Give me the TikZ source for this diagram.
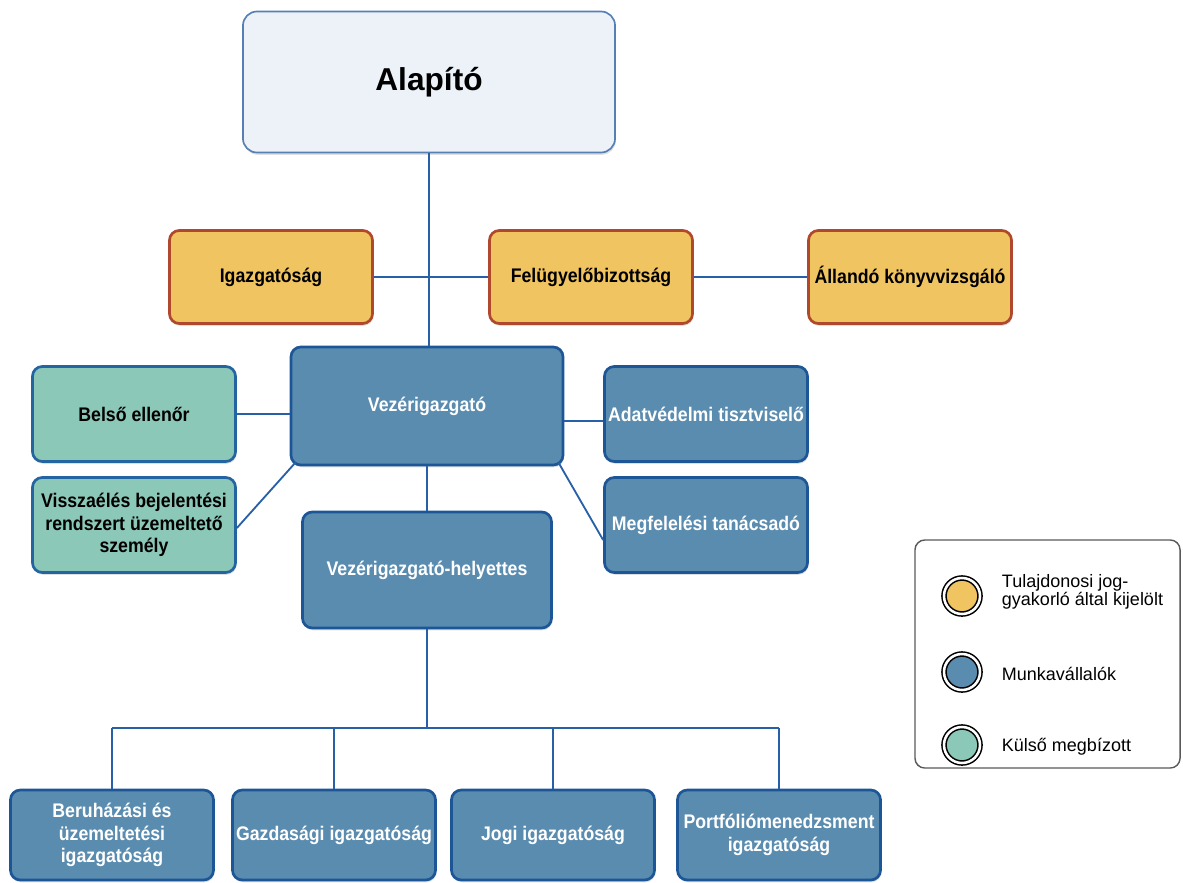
\documentclass[tikz,border=0pt]{standalone}
\usepackage{fontspec}
\setmainfont{Liberation Sans}
\newfontfamily\narrowfont{Liberation Sans}[FakeStretch=0.9]
\usetikzlibrary{shapes,shadows,calc,positioning}

\definecolor{topfill}{RGB}{236,242,248}
\definecolor{topline}{RGB}{86,128,180}
\definecolor{ownfill}{RGB}{240,196,96}
\definecolor{ownline}{RGB}{176,72,44}
\definecolor{empfill}{RGB}{90,140,176}
\definecolor{empline}{RGB}{28,86,150}
\definecolor{extfill}{RGB}{140,200,184}
\definecolor{extline}{RGB}{36,100,160}
\definecolor{connline}{RGB}{40,96,168}

\begin{document}
\begin{tikzpicture}[x=0.025cm, y=-0.025cm,
	basebox/.style={rectangle, rounded corners=7pt, line width=1.9pt, align=center,
		minimum width=5.075cm, minimum height=2.325cm, inner sep=1pt,
		font=\narrowfont\bfseries\fontsize{14}{16}\selectfont,
		drop shadow={shadow xshift=0.6pt, shadow yshift=-1.6pt, opacity=0.25}},
	topbox/.style={basebox, fill=topfill, draw=topline, line width=1.2pt, rounded corners=10pt,
		minimum width=9.3cm, minimum height=3.525cm, font=\bfseries\fontsize{22.5}{26}\selectfont},
	ownbox/.style={basebox, fill=ownfill, draw=ownline},
	empbox/.style={basebox, fill=empfill, draw=empline, text=white},
	extbox/.style={basebox, fill=extfill, draw=extline},
	lowbox/.style={empbox, minimum height=2.25cm},
	conn/.style={draw=connline, line width=1.3pt},
	legdot/.style={circle, draw=black, line width=1.1pt, double=white, double distance=1.8pt,
		minimum size=0.9cm, inner sep=0pt},
	legtext/.style={anchor=west, align=left, font=\fontsize{12.8}{13}\selectfont}]

	\useasboundingbox (0,0) rectangle (1183,882);

	% nodes
	\node[topbox] (alap)   at (429,82)  {Alapító};
	\node[ownbox] (igaz)   at (271,277) {Igazgatóság};
	\node[ownbox] (felu)   at (591,277) {Felügyelőbizottság};
	\node[ownbox] (konyv)  at (910,277) {Állandó könyvvizsgáló};
	\node[empbox, minimum width=6.8cm, minimum height=2.95cm] (vez) at (427,406) {Vezérigazgató};
	\node[extbox, minimum height=2.375cm] (belso)  at (134,414) {Belső ellenőr};
	\node[extbox, minimum height=2.375cm] (vissza) at (134,525) {Visszaélés bejelentési\\rendszert üzemeltető\\személy};
	\node[empbox, minimum height=2.375cm] (adat)   at (706,414) {Adatvédelmi tisztviselő};
	\node[empbox, minimum height=2.375cm] (megf)   at (706,525) {Megfelelési tanácsadó};
	\node[empbox, minimum width=6.225cm, minimum height=2.9cm] (vh) at (427,570) {Vezérigazgató-helyettes};
	\node[lowbox] (beru)  at (112,835) {Beruházási és\\üzemeltetési\\igazgatóság};
	\node[lowbox] (gazd)  at (334,835) {Gazdasági igazgatóság};
	\node[lowbox] (jogi)  at (553,835) {Jogi igazgatóság};
	\node[lowbox] (port)  at (779,835) {Portfóliómenedzsment\\igazgatóság};

	% connectors
	\draw[conn] (alap.south) -- (alap.south |- vez.north);
	\draw[conn] (igaz) -- (felu);
	\draw[conn] (felu) -- (konyv);
	\draw[conn] (belso.east) -- (belso.east -| vez.west);
	\draw[conn] ($(adat.west)+(0,7)$) -- ($(adat.west -| vez.east)+(0,7)$);
	\draw[conn] ($(vez.south west)+(6,-4)$) -- ($(vissza.east)+(0,3)$);
	\draw[conn] ($(vez.south east)+(-6,-4)$) -- ($(megf.west)+(0,15)$);
	\draw[conn] (vez) -- (vh);
	\coordinate (bus) at (427,728);
	\draw[conn] (vh.south) -- (bus);
	\draw[conn] (beru.north |- bus) -- (port.north |- bus);
	\foreach \b in {beru,gazd,jogi,port}
		\draw[conn] (\b.north) -- (\b.north |- bus);

	% legend
	\node[draw=black!65, line width=1pt, rounded corners=7pt, minimum width=6.625cm,
		minimum height=5.7cm] (leg) at (1047.5,654) {};
	\node[legdot, fill=ownfill] (d1) at (962,596) {};
	\node[legdot, fill=empfill] (d2) at (962,672) {};
	\node[legdot, fill=extfill] (d3) at (962,745) {};
	\node[legtext] (t1) at (997,592) {Tulajdonosi jog-\\gyakorló által kijelölt};
	\node[legtext] (t2) at (997,674) {Munkavállalók};
	\node[legtext] (t3) at (997,747) {Külső megbízott};
\end{tikzpicture}
\end{document}
